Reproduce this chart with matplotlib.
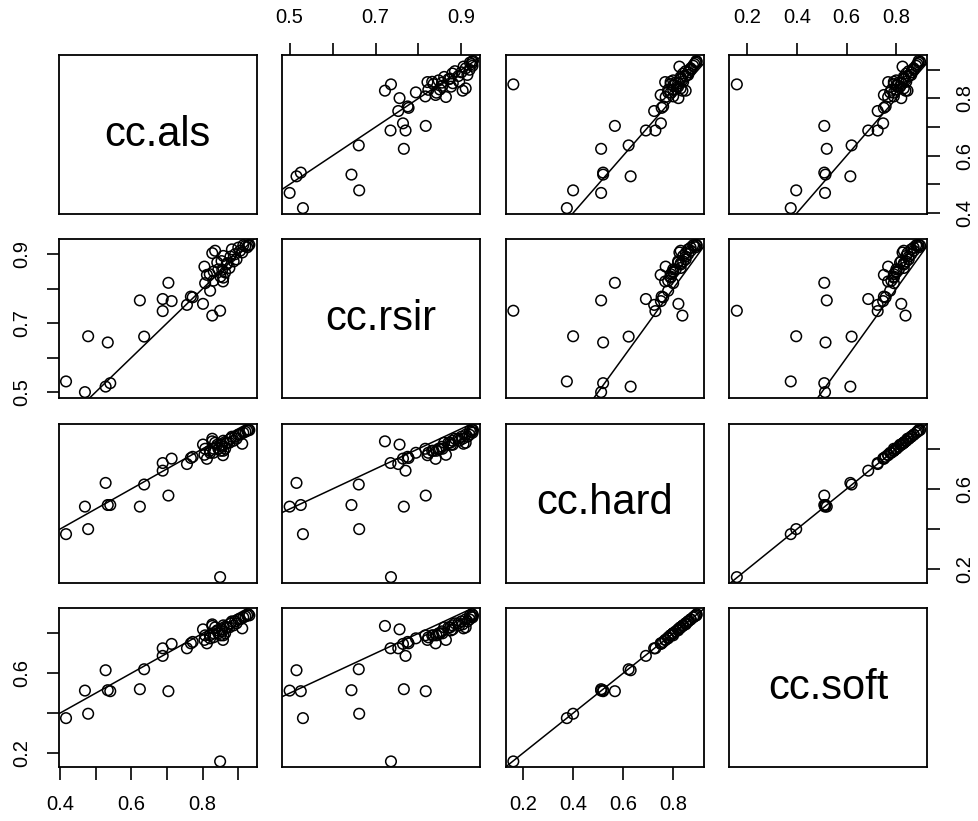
import numpy as np
import matplotlib
matplotlib.use("Agg")
import matplotlib.pyplot as plt

plt.rcParams['font.family'] = ['Liberation Sans', 'DejaVu Sans']

names = ["cc.als", "cc.rsir", "cc.hard", "cc.soft"]

cc_als = [0.417, 0.470, 0.479, 0.528, 0.534, 0.541, 0.624, 0.636, 0.688, 0.688,
          0.704, 0.713, 0.756, 0.767, 0.772, 0.801, 0.827, 0.849, 0.805, 0.812,
          0.807, 0.821, 0.827, 0.831, 0.841, 0.850, 0.857, 0.855, 0.869, 0.878,
          0.887, 0.920, 0.835, 0.858, 0.882, 0.900, 0.914, 0.928, 0.853, 0.867,
          0.844, 0.863, 0.820, 0.830, 0.858, 0.891, 0.905, 0.911, 0.895, 0.875,
          0.925, 0.931]
cc_rsir = [0.531, 0.500, 0.662, 0.516, 0.644, 0.526, 0.766, 0.661, 0.770, 0.735,
           0.817, 0.764, 0.753, 0.777, 0.775, 0.756, 0.722, 0.736, 0.864, 0.840,
           0.816, 0.794, 0.903, 0.850, 0.876, 0.835, 0.821, 0.855, 0.874, 0.893,
           0.879, 0.924, 0.910, 0.895, 0.914, 0.919, 0.926, 0.925, 0.880, 0.870,
           0.856, 0.847, 0.842, 0.823, 0.832, 0.900, 0.910, 0.905, 0.885, 0.860,
           0.920, 0.927]
cc_hard = [0.375, 0.512, 0.400, 0.630, 0.520, 0.520, 0.512, 0.622, 0.691, 0.729,
           0.567, 0.751, 0.724, 0.754, 0.760, 0.821, 0.837, 0.161, 0.770, 0.750,
           0.800, 0.780, 0.850, 0.800, 0.820, 0.790, 0.768, 0.810, 0.830, 0.850,
           0.840, 0.885, 0.830, 0.840, 0.860, 0.870, 0.880, 0.894, 0.820, 0.830,
           0.800, 0.800, 0.790, 0.780, 0.790, 0.860, 0.870, 0.825, 0.850, 0.830,
           0.890, 0.893]
cc_soft = [0.375, 0.513, 0.397, 0.615, 0.515, 0.510, 0.520, 0.620, 0.687, 0.725,
           0.510, 0.747, 0.725, 0.750, 0.757, 0.820, 0.837, 0.158, 0.767, 0.750,
           0.790, 0.775, 0.845, 0.800, 0.815, 0.790, 0.767, 0.810, 0.830, 0.850,
           0.840, 0.885, 0.830, 0.840, 0.860, 0.870, 0.880, 0.896, 0.820, 0.830,
           0.800, 0.800, 0.790, 0.780, 0.790, 0.860, 0.870, 0.825, 0.850, 0.830,
           0.890, 0.890]

data = [np.array(cc_als), np.array(cc_rsir), np.array(cc_hard), np.array(cc_soft)]

ticks = [[0.4, 0.5, 0.6, 0.7, 0.8, 0.9],
         [0.5, 0.6, 0.7, 0.8, 0.9],
         [0.2, 0.4, 0.6, 0.8],
         [0.2, 0.4, 0.6, 0.8]]
xlabels = [["0.4", "", "0.6", "", "0.8", ""],
           ["0.5", "", "0.7", "", "0.9"],
           ["0.2", "0.4", "0.6", "0.8"],
           ["0.2", "0.4", "0.6", "0.8"]]
ylabels = [["0.4", "", "0.6", "", "0.8", ""],
           ["0.5", "", "0.7", "", "0.9"],
           ["0.2", "", "0.6", ""],
           ["0.2", "", "0.6", ""]]

W, H = 979, 821
fig = plt.figure(figsize=(W / 100, H / 100), dpi=100)

col_left = [58.7, 282.3, 506.0, 729.5]
row_top = [55.0, 239.0, 424.0, 608.3]
pw, ph = 198.0, 159.0


def lims(v):
    r = v.max() - v.min()
    return v.min() - 0.04 * r, v.max() + 0.04 * r


n = 4
for i in range(n):
    for j in range(n):
        ax = fig.add_axes([col_left[j] / W, 1 - (row_top[i] + ph) / H, pw / W, ph / H])
        for s in ax.spines.values():
            s.set_linewidth(1.3)
        ax.set_xlim(*lims(data[j]))
        ax.set_ylim(*lims(data[i]))
        ax.set_xticks([])
        ax.set_yticks([])
        if i == j:
            ax.text(0.5, 0.5, names[i], transform=ax.transAxes, ha='center', va='center',
                    fontsize=30)
        else:
            x, y = data[j], data[i]
            ax.scatter(x, y, s=58, facecolors='none', edgecolors='black', linewidths=1.1)
            # identity reference line y = x
            ax.axline((0, 0), (1, 1), color='black', lw=1.1)
        if i == 0 and j % 2 == 1:
            ax.xaxis.tick_top()
            ax.set_xticks(ticks[j])
            ax.set_xticklabels(xlabels[j])
        if i == n - 1 and j % 2 == 0:
            ax.set_xticks(ticks[j])
            ax.set_xticklabels(xlabels[j])
        if j == 0 and i % 2 == 1:
            ax.set_yticks(ticks[i])
            ax.set_yticklabels(ylabels[i], rotation=90, va='center')
        if j == n - 1 and i % 2 == 0:
            ax.yaxis.tick_right()
            ax.set_yticks(ticks[i])
            ax.set_yticklabels(ylabels[i], rotation=90, va='center')
        ax.tick_params(axis='both', direction='out', length=9, width=1.2,
                       labelsize=14.5, pad=11)

fig.savefig("out.png", dpi=100)
